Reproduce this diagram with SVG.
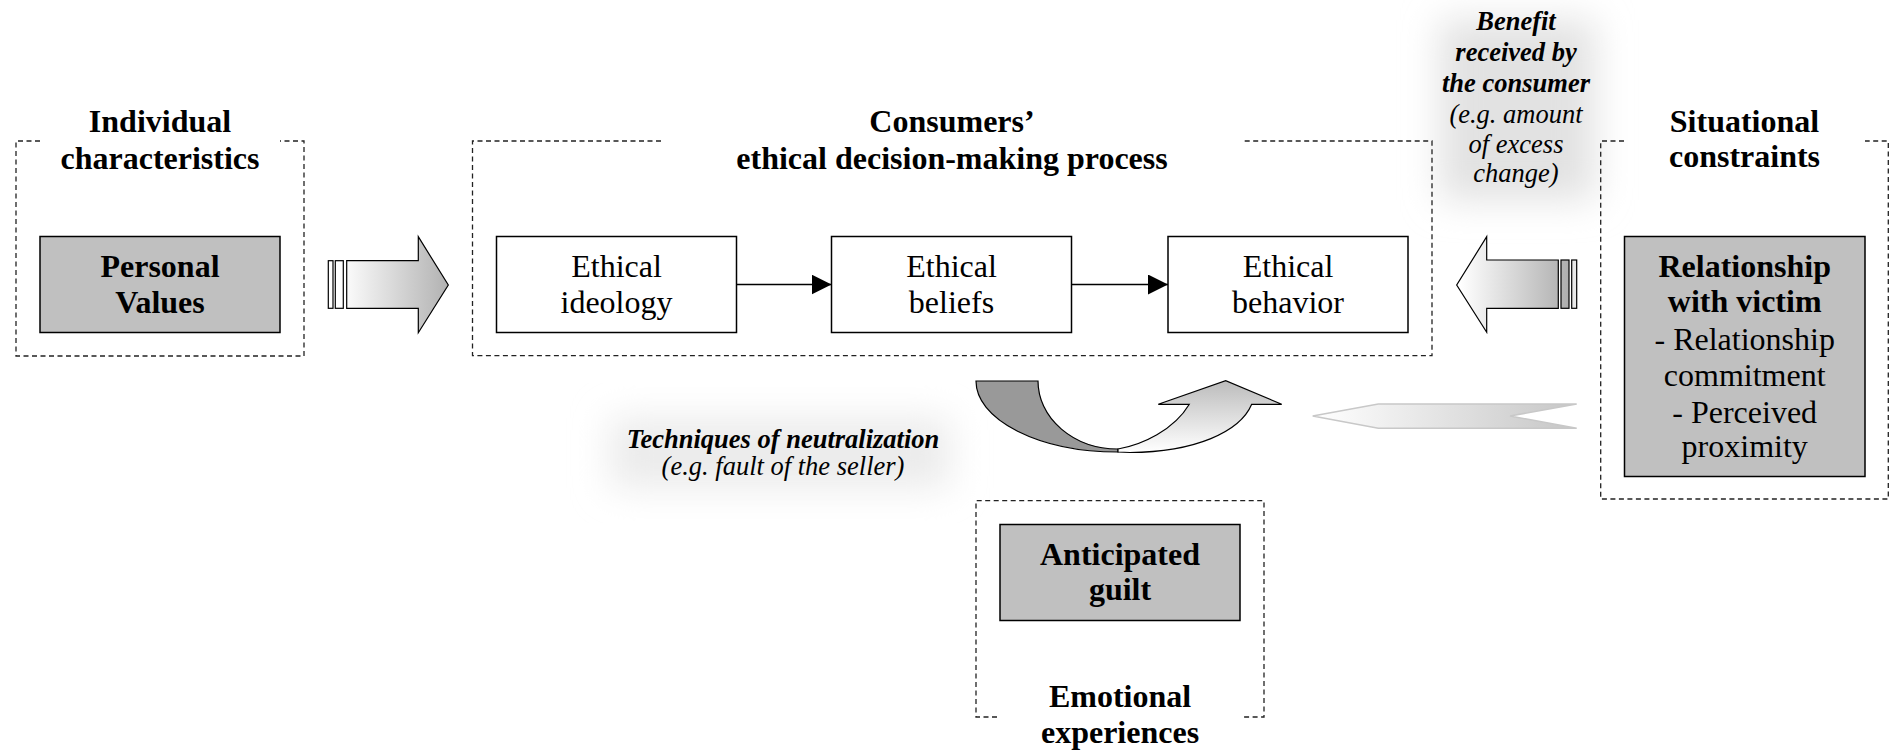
<svg xmlns="http://www.w3.org/2000/svg" width="1890" height="754" viewBox="0 0 1890 754">
<style>
.dash{fill:none;stroke:#222;stroke-width:1.3;stroke-dasharray:5 3.5}
.box{stroke:#000;stroke-width:1.5}
.gray{fill:#c0c0c0}
.white{fill:#fff}
text{font-family:"Liberation Serif","Times New Roman",serif;fill:#000;text-anchor:middle}
.t{font-size:32px;font-weight:bold}
.b{font-size:32px;font-weight:bold}
.r{font-size:32px}
.bi{font-size:26.5px;font-weight:bold;font-style:italic}
.i{font-size:26.5px;font-style:italic}
.conn{stroke:#000;stroke-width:1.5;fill:none}
.blk{stroke:#000;stroke-width:1.2}
</style>
<defs>
<marker id="ah" markerUnits="userSpaceOnUse" markerWidth="20" markerHeight="20" refX="20" refY="10" orient="auto">
<path d="M0,0 L20,10 L0,20 Z" fill="#000"/>
</marker>
<linearGradient id="gL" gradientUnits="userSpaceOnUse" x1="340" y1="0" x2="448" y2="0">
<stop offset="0" stop-color="#fff"/><stop offset="1" stop-color="#b2b2b2"/>
</linearGradient>
<linearGradient id="gR" gradientUnits="userSpaceOnUse" x1="1460" y1="0" x2="1577" y2="0">
<stop offset="0" stop-color="#fff"/><stop offset="1" stop-color="#a8a8a8"/>
</linearGradient>
<linearGradient id="gF" gradientUnits="userSpaceOnUse" x1="1313" y1="0" x2="1577" y2="0">
<stop offset="0" stop-color="#fff"/><stop offset="1" stop-color="#c6c6c6"/>
</linearGradient>
<linearGradient id="gC" gradientUnits="userSpaceOnUse" x1="0" y1="381" x2="0" y2="452">
<stop offset="0" stop-color="#bcbcbc"/><stop offset="1" stop-color="#fff"/>
</linearGradient>
<filter id="blur" x="-50%" y="-50%" width="200%" height="200%">
<feGaussianBlur stdDeviation="18"/>
</filter>
</defs>
<rect width="1890" height="754" fill="#fff"/>

<g id="glows">
<rect x="1440" y="20" width="155" height="180" fill="#e2e2e2" filter="url(#blur)"/>
<rect x="610" y="418" width="340" height="70" fill="#ebebeb" filter="url(#blur)"/>
</g>

<g id="individual-characteristics">
<path class="dash" d="M40,141 H16 V356 H304 V141 H280"/>
<text class="t" x="160" y="132">Individual</text>
<text class="t" x="160" y="168.5">characteristics</text>
</g>
<g id="personal-values">
<rect class="box gray" x="40" y="236.5" width="240" height="96"/>
<text class="b" x="160" y="277">Personal</text>
<text class="b" x="160" y="312.5">Values</text>
</g>

<g id="decision-process">
<path class="dash" d="M661,141 H472.5 V355.6 H1432 V141 H1241.6"/>
<text class="t" x="952" y="132">Consumers’</text>
<text class="t" x="952" y="169">ethical decision-making process</text>
</g>
<g id="ethical-ideology">
<rect class="box white" x="496.5" y="236.5" width="240" height="96"/>
<text class="r" x="616.5" y="277">Ethical</text>
<text class="r" x="616.5" y="313">ideology</text>
</g>
<g id="ethical-beliefs">
<rect class="box white" x="831.5" y="236.5" width="240" height="96"/>
<text class="r" x="951.5" y="277">Ethical</text>
<text class="r" x="951.5" y="313">beliefs</text>
</g>
<g id="ethical-behavior">
<rect class="box white" x="1168" y="236.5" width="240" height="96"/>
<text class="r" x="1288" y="277">Ethical</text>
<text class="r" x="1288" y="313">behavior</text>
</g>

<g id="situational-constraints">
<path class="dash" d="M1624,141 H1600.7 V499 H1888.3 V141 H1865"/>
<text class="t" x="1744.5" y="132">Situational</text>
<text class="t" x="1744.5" y="167">constraints</text>
</g>
<g id="relationship-with-victim">
<rect class="box gray" x="1624.5" y="236.5" width="240.5" height="240"/>
<text class="b" x="1744.7" y="277">Relationship</text>
<text class="b" x="1744.7" y="312">with victim</text>
<text class="r" x="1744.7" y="349.5">- Relationship</text>
<text class="r" x="1744.7" y="386">commitment</text>
<text class="r" x="1744.7" y="422.5">- Perceived</text>
<text class="r" x="1744.7" y="457">proximity</text>
</g>

<g id="emotional-experiences">
<path class="dash" d="M997,717 H976 V500.7 H1264 V717 H1243"/>
<text class="t" x="1120" y="707">Emotional</text>
<text class="t" x="1120" y="742.5">experiences</text>
</g>
<g id="anticipated-guilt">
<rect class="box gray" x="1000" y="524.5" width="240" height="96"/>
<text class="b" x="1120" y="565">Anticipated</text>
<text class="b" x="1120" y="600">guilt</text>
</g>

<g id="benefit-label">
<text class="bi" x="1516" y="30">Benefit</text>
<text class="bi" x="1516" y="60.5">received by</text>
<text class="bi" x="1516" y="91.5">the consumer</text>
<text class="i" x="1516" y="122.5">(e.g. amount</text>
<text class="i" x="1516" y="153">of excess</text>
<text class="i" x="1516" y="182">change)</text>
</g>

<g id="techniques-label">
<text class="bi" x="783" y="448">Techniques of neutralization</text>
<text class="i" x="783" y="475">(e.g. fault of the seller)</text>
</g>

<g id="connectors">
<line class="conn" x1="736.5" y1="284.5" x2="831.5" y2="284.5" marker-end="url(#ah)"/>
<line class="conn" x1="1071.5" y1="284.5" x2="1168" y2="284.5" marker-end="url(#ah)"/>
<g id="arrow-individual">
<rect class="blk" x="328.3" y="260.7" width="4.7" height="47.6" fill="url(#gL)"/>
<rect class="blk" x="335.3" y="260.7" width="8" height="47.6" fill="url(#gL)"/>
<polygon class="blk" fill="url(#gL)" points="346.7,260.7 418.3,260.7 418.3,236.7 448.3,285 418.3,332.7 418.3,308.3 346.7,308.3"/>
</g>
<g id="arrow-situational">
<polygon class="blk" fill="url(#gR)" points="1558.3,260 1486.7,260 1486.7,236.7 1456.7,285 1486.7,332.3 1486.7,308.3 1558.3,308.3"/>
<rect class="blk" x="1561" y="260" width="8" height="48.3" fill="url(#gR)"/>
<rect class="blk" x="1571.7" y="260" width="5" height="48.3" fill="#e8e8e8"/>
</g>
<polygon id="arrow-faded" points="1312.7,416 1378.3,404 1576.7,404 1510,416 1576.7,428.3 1378.3,428.3" fill="url(#gF)" stroke="#c8c8c8" stroke-width="1.5"/>
<g id="arrow-curved">
<path d="M976,381 H1038 A80,68 0 0 0 1118,449 L1118,452 A142,71 0 0 1 976,381 Z" fill="#999" stroke="#000" stroke-width="1.2"/>
<path d="M1118,449 C1142,445 1174,430 1189.3,404.3 L1158.3,404.3 L1225.7,380.7 L1281.7,404.3 L1251.7,404.3 C1240,432 1195,452 1130,452.5 L1118,452 Z" fill="url(#gC)" stroke="#000" stroke-width="1.2"/>
</g>
</g>
</svg>
